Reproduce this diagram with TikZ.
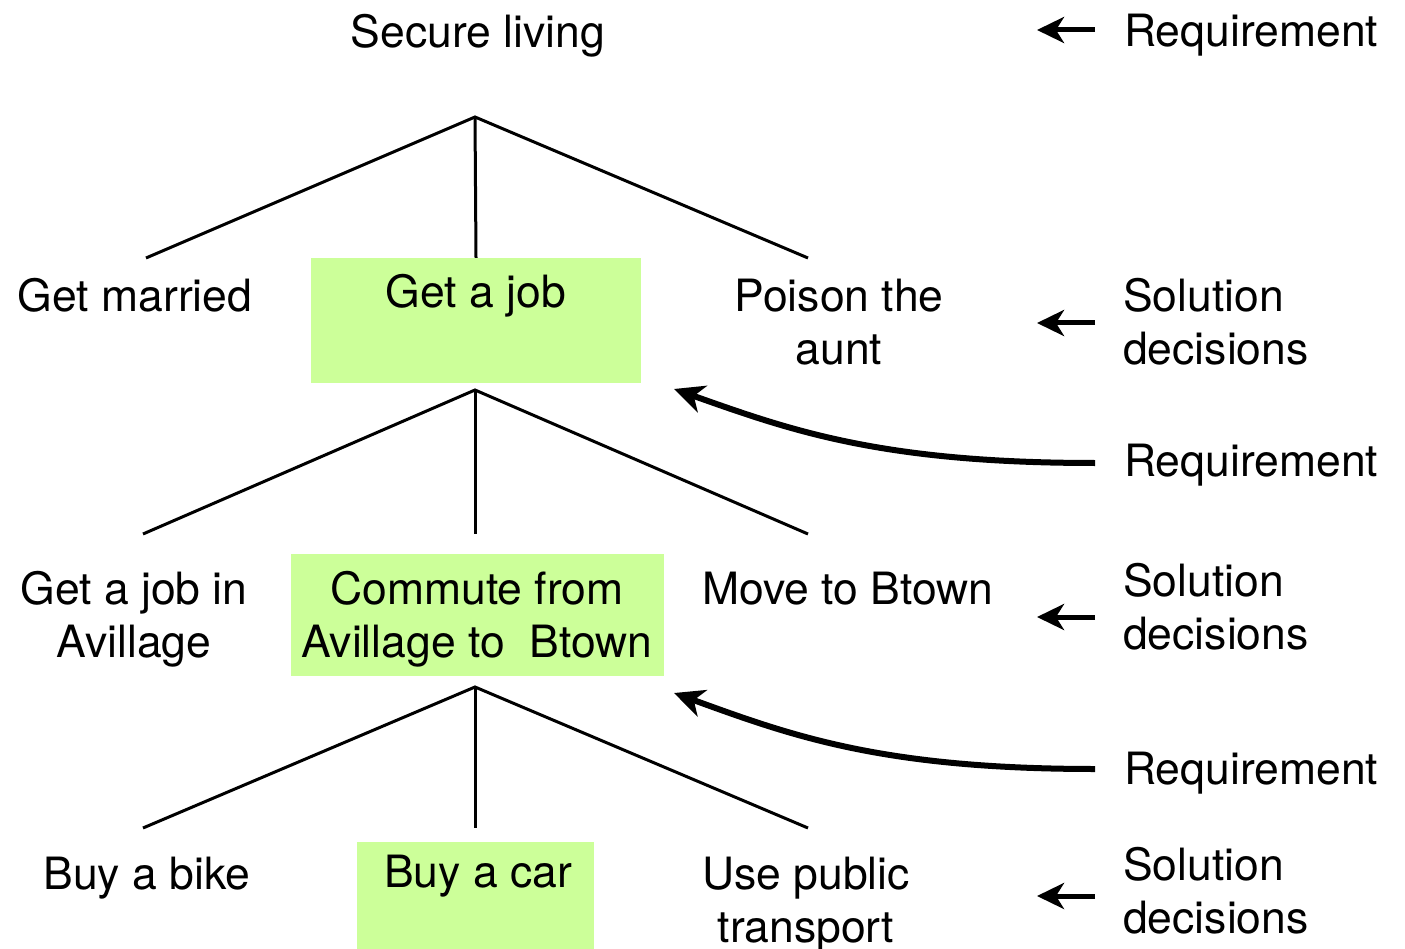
\documentclass[tikz,border=0pt]{standalone}
\usepackage{fontspec}
\setmainfont{TeX Gyre Heros}
\usetikzlibrary{arrows.meta}
\definecolor{boxgreen}{HTML}{CCFF99}
\begin{document}
\begin{tikzpicture}[x=1pt,y=-1pt,
  txt/.style={inner sep=0pt, anchor=base, align=center, font=\fontsize{44.5}{53}\selectfont},
  rtxt/.style={inner sep=0pt, anchor=base west, align=left, font=\fontsize{44.5}{53}\selectfont},
  gbox/.style={fill=boxgreen, draw=none, inner sep=0pt},
  tree/.style={line width=3pt},
  sarrow/.style={line width=5pt, -{Stealth[length=27pt,width=26pt,inset=8pt]}},
  carrow/.style={line width=6pt, -{Stealth[length=30pt,width=28pt,inset=9pt]}}
]
\useasboundingbox (0,0) rectangle (1405,949);

% green boxes
\node[gbox, minimum width=330pt, minimum height=125pt] (job) at (476,320.5) {};
\node[gbox, minimum width=373pt, minimum height=122pt] (commute) at (477.5,615) {};
\node[gbox, minimum width=237pt, minimum height=107pt] (car) at (475.5,895.5) {};

% texts (base anchor of a multi-line node is its last line)
\node[txt] (secure) at (478,48) {Secure living};
\node[txt] (married) at (135,312) {Get married};
\node[txt] (jobt) at (476,308) {Get a job};
\node[txt] (poison) at (839,365) {Poison the\\aunt};
\node[txt] (avillage) at (134,657) {Get a job in\\Avillage};
\node[txt] (commutet) at (477,657) {Commute from\\Avillage to\ \ Btown};
\node[txt] (move) at (848,604) {Move to Btown};
\node[txt] (bike) at (147,889) {Buy a bike};
\node[txt] (cart) at (478,887) {Buy a car};
\node[txt] (public) at (806,942) {Use public\\transport};

% right column
\node[rtxt] (req1) at (1124,47) {Requirement};
\node[rtxt] (sol1) at (1123,365) {Solution\\decisions};
\node[rtxt] (req2) at (1124,476) {Requirement};
\node[rtxt] (sol2) at (1123,649) {Solution\\decisions};
\node[rtxt] (req3) at (1124,784) {Requirement};
\node[rtxt] (sol3) at (1123,933) {Solution\\decisions};

% tree 1
\coordinate (ap1) at (475,117);
\coordinate (l1) at (146,258);
\coordinate (r1) at (808,258);
\draw[tree] (l1) -- (ap1) -- (r1);
\draw[tree] (ap1) -- (job.north);

% tree 2
\coordinate (ap2) at (475,390);
\coordinate (l2) at (143,534);
\coordinate (m2) at (475,534);
\coordinate (r2) at (808,534);
\draw[tree] (l2) -- (ap2) -- (r2);
\draw[tree] (ap2) -- (m2);

% tree 3
\coordinate (ap3) at (475,687);
\coordinate (l3) at (143,828);
\coordinate (m3) at (475,828);
\coordinate (r3) at (808,828);
\draw[tree] (l3) -- (ap3) -- (r3);
\draw[tree] (ap3) -- (m3);

% straight arrows
\coordinate (s1) at (1095,30);  \coordinate (e1) at (1037,30);
\coordinate (s2) at (1095,323); \coordinate (e2) at (1037,323);
\coordinate (s3) at (1095,617); \coordinate (e3) at (1037,617);
\coordinate (s4) at (1095,896); \coordinate (e4) at (1037,896);
\draw[sarrow] (s1) -- (e1);
\draw[sarrow] (s2) -- (e2);
\draw[sarrow] (s3) -- (e3);
\draw[sarrow] (s4) -- (e4);

% curved arrows
\coordinate (c1s) at (1095,463);
\coordinate (c1e) at (674,389);
\draw[carrow] (c1s) .. controls (880,463) and (790,430) .. (c1e);
\coordinate (c2s) at (1095,769);
\coordinate (c2e) at (674,693);
\draw[carrow] (c2s) .. controls (880,769) and (790,735) .. (c2e);
\end{tikzpicture}
\end{document}
